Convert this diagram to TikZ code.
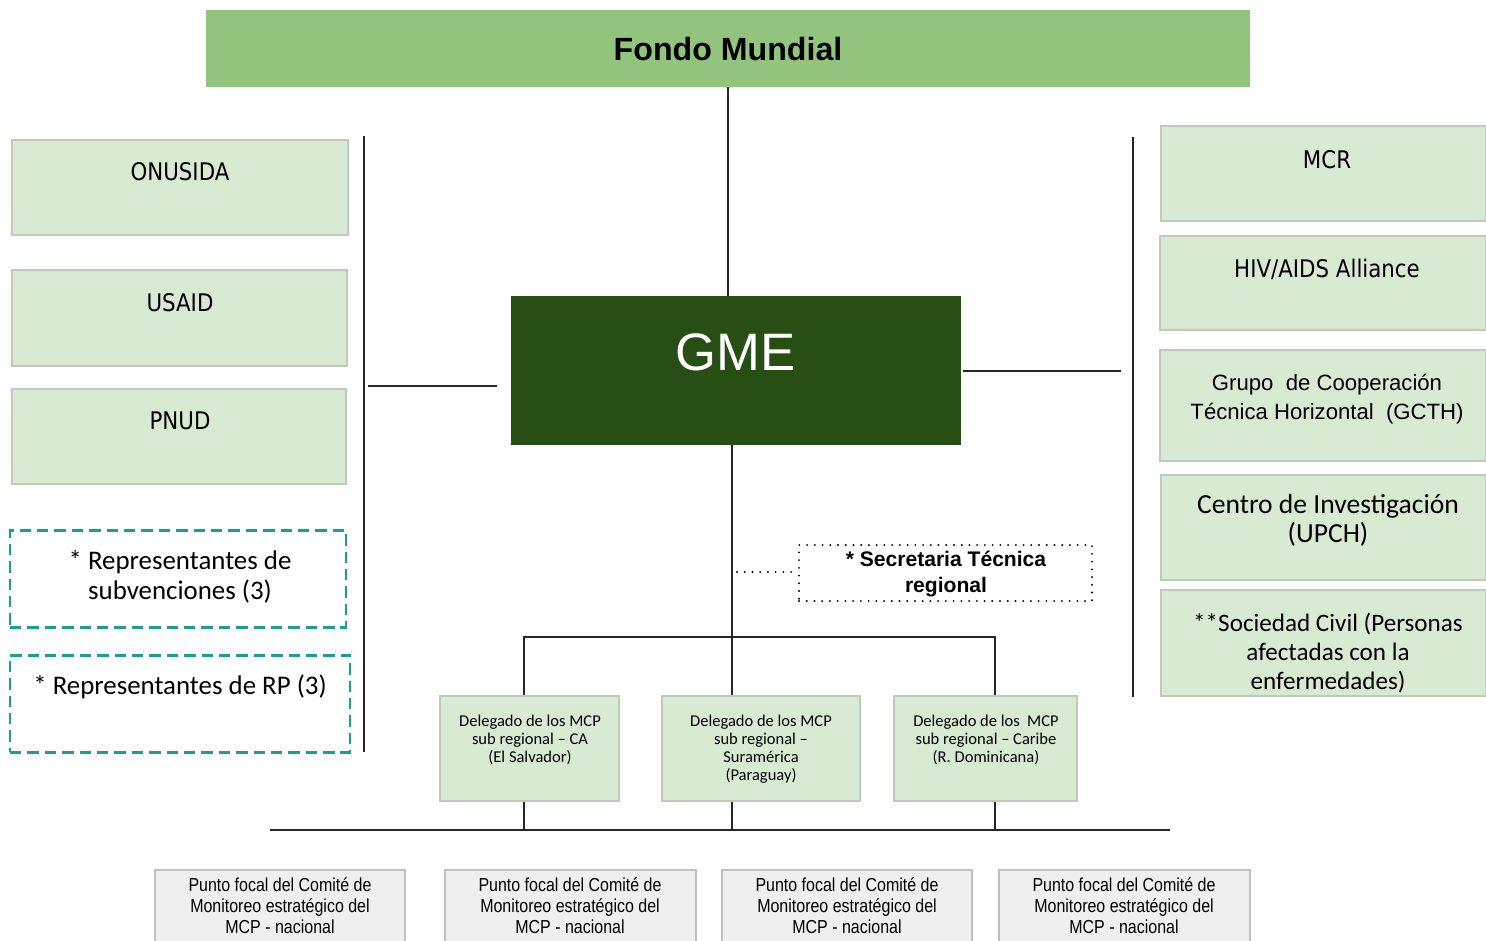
\documentclass[tikz,border=0pt]{standalone}
\usepackage{fontspec}
\setmainfont{Liberation Sans}
\newfontfamily\tahoma[FakeStretch=0.88]{DejaVu Sans}
\newfontfamily\calib{Carlito}
\newfontfamily\narrowf[FakeStretch=0.85]{Liberation Sans}
\usetikzlibrary{fit}
\definecolor{fondogreen}{HTML}{93C47D}
\definecolor{gmegreen}{HTML}{274E13}
\definecolor{lightg}{HTML}{D9EAD3}
\definecolor{lgborder}{HTML}{BFC9BC}
\definecolor{tealc}{HTML}{1A9E96}
\definecolor{grayf}{HTML}{EFEFEF}
\definecolor{grayb}{HTML}{C0C0C0}
\tikzset{
  fondobox/.style={fill=fondogreen, draw=none, inner sep=0pt},
  gmebox/.style={fill=gmegreen, draw=none, inner sep=0pt},
  lgbox/.style={fill=lightg, draw=lgborder, line width=0.6pt, inner sep=0pt},
  tealbox/.style={draw=tealc, line width=1.7pt, dash pattern=on 6.5pt off 3.4pt, inner sep=0pt},
  graybox/.style={fill=grayf, draw=grayb, line width=0.6pt, inner sep=0pt},
  dotbox/.style={draw=black, line width=1.2pt, line cap=round, dash pattern=on 0pt off 4.4pt, inner sep=0pt},
  conn/.style={draw=black!85, line width=0.7pt},
  dotline/.style={draw=black, line width=1.2pt, line cap=round, dash pattern=on 0pt off 4.4pt},
  txt/.style={inner sep=0pt, align=center, text=black},
}
\begin{document}
\begin{tikzpicture}[x=0.02cm,y=-0.02cm]
\useasboundingbox (0,0) rectangle (1486,940);
% top
\node[fondobox, fit={(206,10) (1250,87)}] (fondo) {};
\node[txt, font=\bfseries\fontsize{18.3}{22}\selectfont] (fondo-t) at (728,49) {Fondo Mundial};
% GME
\node[gmebox, fit={(511,296) (961,445)}] (gme) {};
% connectors behind
\coordinate (trunk) at (732,830);
\coordinate (tl) at (524,637);
\coordinate (tr) at (995,637);
\coordinate (bl) at (270,830);
\coordinate (br) at (1170,830);
\draw[conn] (fondo.south) -- (fondo.south |- gme.north);
\draw[conn] (gme.south -| trunk) -- (trunk);
\draw[conn] (tl |- 0,696) -- (tl) -- (tr) -- (tr |- 0,696);
\draw[conn] (bl) -- (br);
\draw[conn] (tl |- 0,801) -- (tl |- bl);
\draw[conn] (tr |- 0,801) -- (tr |- br);
\node[txt, text=white, font=\fontsize{30}{34}\selectfont] (gme-t) at (736,352) {GME};
% side lines
\coordinate (lvt) at (364,136);
\coordinate (lvb) at (364,752);
\coordinate (lh1) at (368,386);
\coordinate (lh2) at (497,386);
\draw[conn] (lvt) -- (lvb);
\draw[conn] (lh1) -- (lh2);
\coordinate (rvt) at (1133,137);
\coordinate (rvb) at (1133,697);
\coordinate (rh1) at (963,371);
\coordinate (rh2) at (1121,371);
\draw[conn] (rvt) -- (rvb);
\draw[conn] (rh1) -- (rh2);
% left boxes
\node[lgbox, fit={(12,140) (348,235)}] (onusida) {};
\node[txt, font=\tahoma\fontsize{13.8}{16}\selectfont] (onusida-t) at (180,172) {ONUSIDA};
\node[lgbox, fit={(12,270) (347,366)}] (usaid) {};
\node[txt, font=\tahoma\fontsize{13.8}{16}\selectfont] (usaid-t) at (180,303) {USAID};
\node[lgbox, fit={(12,389) (346,484)}] (pnud) {};
\node[txt, font=\tahoma\fontsize{13.8}{16}\selectfont] (pnud-t) at (180,421) {PNUD};
\node[tealbox, fit={(10,530) (346,627)}] (rsub) {};
\node[txt, font=\calib\fontsize{15.3}{17}\selectfont] (rsub-t) at (180,577) {* Representantes de\\subvenciones (3)};
\node[tealbox, fit={(10,655) (350,752)}] (rrp) {};
\node[txt, font=\calib\fontsize{15.3}{17}\selectfont] (rrp-t) at (180,687) {* Representantes de RP (3)};
% right boxes
\node[lgbox, fit={(1161,126) (1486,221)}] (mcr) {};
\node[txt, font=\tahoma\fontsize{13.8}{16}\selectfont] (mcr-t) at (1327,160) {MCR};
\node[lgbox, fit={(1160,236) (1486,330)}] (hiv) {};
\node[txt, font=\tahoma\fontsize{13.8}{16}\selectfont] (hiv-t) at (1327,269) {HIV/AIDS Alliance};
\node[lgbox, fit={(1160,350) (1486,461)}] (gcth) {};
\node[txt, font=\fontsize{12.6}{16.4}\selectfont] (gcth-t) at (1327,399) {Grupo\ \ de Cooperación\\Técnica Horizontal\ \ (GCTH)};
\node[lgbox, fit={(1161,475) (1486,580)}] (upch) {};
\node[txt, font=\calib\fontsize{15.7}{16.4}\selectfont] (upch-t) at (1328,520) {Centro de Investigación\\(UPCH)};
\node[lgbox, fit={(1161,590) (1486,696)}] (soc) {};
\node[txt, font=\calib\fontsize{14.3}{16.4}\selectfont] (soc-t) at (1328,653) {**Sociedad Civil (Personas\\afectadas con la\\enfermedades)};
% secretaria
\node[dotbox, fit={(799,545) (1092,601)}] (sec) {};
\node[txt, font=\bfseries\fontsize{12}{15.3}\selectfont] (sec-t) at (946,574) {* Secretaria Técnica\\regional};
\coordinate (dotstart) at (737,572);
\draw[dotline] (dotstart) -- (sec.west |- dotstart);
% delegados
\node[lgbox, fit={(440,696) (619,801)}] (d1) {};
\node[txt, font=\calib\fontsize{9.4}{10.2}\selectfont] (d1-t) at (530,740) {Delegado de los MCP\\sub regional – CA\\(El Salvador)};
\node[lgbox, fit={(662,696) (860,801)}] (d2) {};
\node[txt, font=\calib\fontsize{9.4}{10.2}\selectfont] (d2-t) at (761,749) {Delegado de los MCP\\sub regional –\\Suramérica\\(Paraguay)};
\node[lgbox, fit={(894,696) (1077,801)}] (d3) {};
\node[txt, font=\calib\fontsize{9.4}{10.2}\selectfont] (d3-t) at (986,740) {Delegado de los\ \ MCP\\sub regional – Caribe\\(R. Dominicana)};
% bottom
\node[graybox, fit={(155,870) (405,945)}] (p1) {};
\node[txt, font=\narrowf\fontsize{10.7}{11.9}\selectfont] (p1-t) at (280,906) {Punto focal del Comité de\\Monitoreo estratégico del\\MCP - nacional};
\node[graybox, fit={(445,870) (696,945)}] (p2) {};
\node[txt, font=\narrowf\fontsize{10.7}{11.9}\selectfont] (p2-t) at (570,906) {Punto focal del Comité de\\Monitoreo estratégico del\\MCP - nacional};
\node[graybox, fit={(722,870) (972,945)}] (p3) {};
\node[txt, font=\narrowf\fontsize{10.7}{11.9}\selectfont] (p3-t) at (847,906) {Punto focal del Comité de\\Monitoreo estratégico del\\MCP - nacional};
\node[graybox, fit={(999,870) (1250,945)}] (p4) {};
\node[txt, font=\narrowf\fontsize{10.7}{11.9}\selectfont] (p4-t) at (1124,906) {Punto focal del Comité de\\Monitoreo estratégico del\\MCP - nacional};
\end{tikzpicture}
\end{document}
